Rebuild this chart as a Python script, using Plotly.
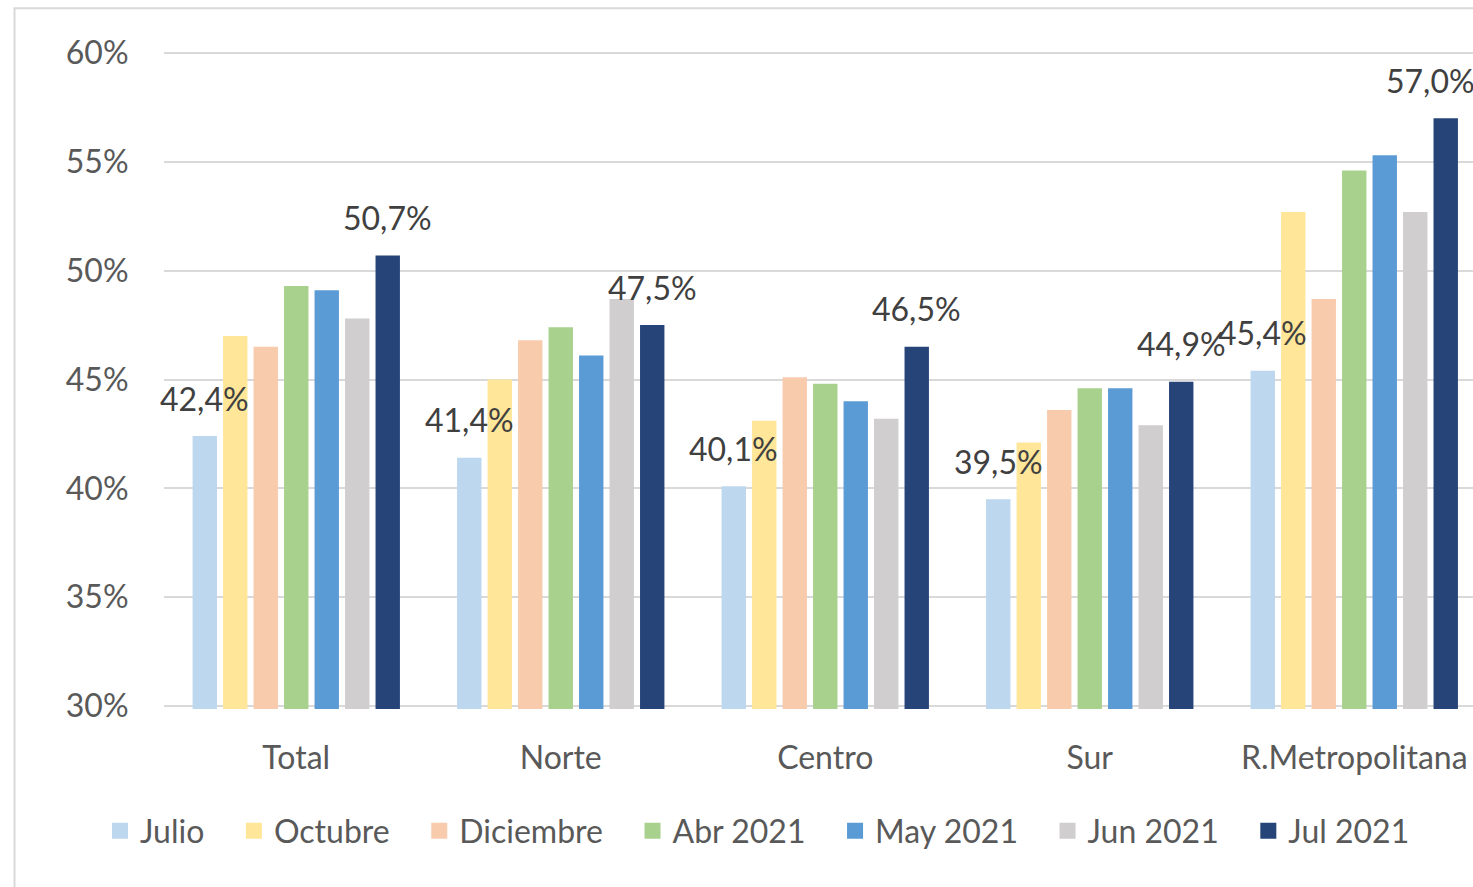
import plotly.graph_objects as go

categories = ["Total", "Norte", "Centro", "Sur", "R.Metropolitana"]
series_names = ["Julio", "Octubre", "Diciembre", "Abr 2021", "May 2021", "Jun 2021", "Jul 2021"]
julio = [42.4, 41.4, 40.1, 39.5, 45.4]
octubre = [47.0, 45.0, 43.1, 42.1, 52.7]
diciembre = [46.5, 46.8, 45.1, 43.6, 48.7]
abr_2021 = [49.3, 47.4, 44.8, 44.6, 54.6]
may_2021 = [49.1, 46.1, 44.0, 44.6, 55.3]
jun_2021 = [47.8, 48.7, 43.2, 42.9, 52.7]
jul_2021 = [50.7, 47.5, 46.5, 44.9, 57.0]
labelled = {"Julio", "Jul 2021"}
colors = ["#BDD7EE", "#FFE699", "#F8CBAD", "#A9D18E", "#5B9BD5", "#D0CECE", "#264478"]
y_ticks = [30, 35, 40, 45, 50, 55, 60]
y_ticktext = [f"{v}%" for v in y_ticks]

all_series = [julio, octubre, diciembre, abr_2021, may_2021, jun_2021, jul_2021]

W, H = 1473, 887
EXT = 3  # px of headroom so edge gridlines are drawn
ML, MR, MT, MB = 164, 0, 53 - EXT, 181 - EXT
cat_px = 264.5
plot_w = W - ML - MR
plot_h = H - MT - MB
px_per_unit = 653 / 30.0
y_range = [30 - EXT / px_per_unit, 60 + EXT / px_per_unit]
x_range = [-0.5, -0.5 + plot_w / cat_px]
bargap = 0.193
bargroupgap = 0.2
FONT = "Lato"
PAD = "\u00a0\u00a0\u00a0"

fig = go.Figure()
for name, vals, col in zip(series_names, all_series, colors):
    fig.add_trace(go.Bar(x=categories, y=vals, name=name, marker_color=col,
                         marker_line_width=0, showlegend=False, legendgroup=name))
# legend entries with larger square swatches
for name, col in zip(series_names, colors):
    fig.add_trace(go.Scatter(x=[None], y=[None], mode="markers", name=name + PAD,
                             legendgroup=name,
                             marker=dict(symbol="square", size=16, color=col)))

# data labels for the labelled series
n = len(series_names)
group_px = cat_px * (1 - bargap)
slot_px = group_px / n
for i, (name, vals) in enumerate(zip(series_names, all_series)):
    if name not in labelled:
        continue
    xshift = -group_px / 2 + (i + 0.5) * slot_px
    for j, (c, v) in enumerate(zip(categories, vals)):
        extra = -15 if (j == len(categories) - 1 and i == n - 1) else 0
        fig.add_annotation(x=c, y=v, text=f"{v:.1f}".replace(".", ",") + "%",
                           showarrow=False, xshift=xshift + extra, yshift=38,
                           yanchor="middle", xanchor="center",
                           font=dict(family=FONT, size=32, color="#404040"))

# outer chart border (only left/top visible in the frame)
fig.add_shape(type="rect", xref="paper", yref="paper",
              x0=(14.5 - ML) / plot_w, x1=1.2,
              y0=-0.5, y1=(H - MB - 8.3) / plot_h,
              line=dict(color="#D9D9D9", width=2), fillcolor="rgba(0,0,0,0)",
              layer="below")

fig.update_layout(
    width=W, height=H,
    margin=dict(l=ML, r=MR, t=MT, b=MB, pad=0),
    plot_bgcolor="white", paper_bgcolor="white",
    barmode="group", bargap=bargap, bargroupgap=bargroupgap,
    separators=",.",
    font=dict(family=FONT, size=32, color="#595959"),
    showlegend=True,
    legend=dict(orientation="h", x=(100 - ML) / plot_w, xanchor="left",
                y=(H - MB - 831) / plot_h, yanchor="middle",
                font=dict(family=FONT, size=32, color="#595959"),
                traceorder="normal", itemsizing="trace"),
    xaxis=dict(range=x_range, showgrid=False, showline=False, zeroline=False,
               ticks="outside", ticklen=21, tickcolor="rgba(0,0,0,0)",
               tickfont=dict(family=FONT, size=32, color="#595959")),
    yaxis=dict(range=y_range, tickmode="array", tickvals=y_ticks, ticktext=y_ticktext,
               showgrid=True, gridcolor="#D9D9D9", gridwidth=2,
               zeroline=False, showline=False,
               ticks="outside", ticklen=28, tickcolor="rgba(0,0,0,0)",
               tickfont=dict(family=FONT, size=32, color="#595959")),
)

fig.write_html("out.html", config={"displayModeBar": False},
               post_script="document.body.style.margin='0';document.body.style.overflow='hidden';")
